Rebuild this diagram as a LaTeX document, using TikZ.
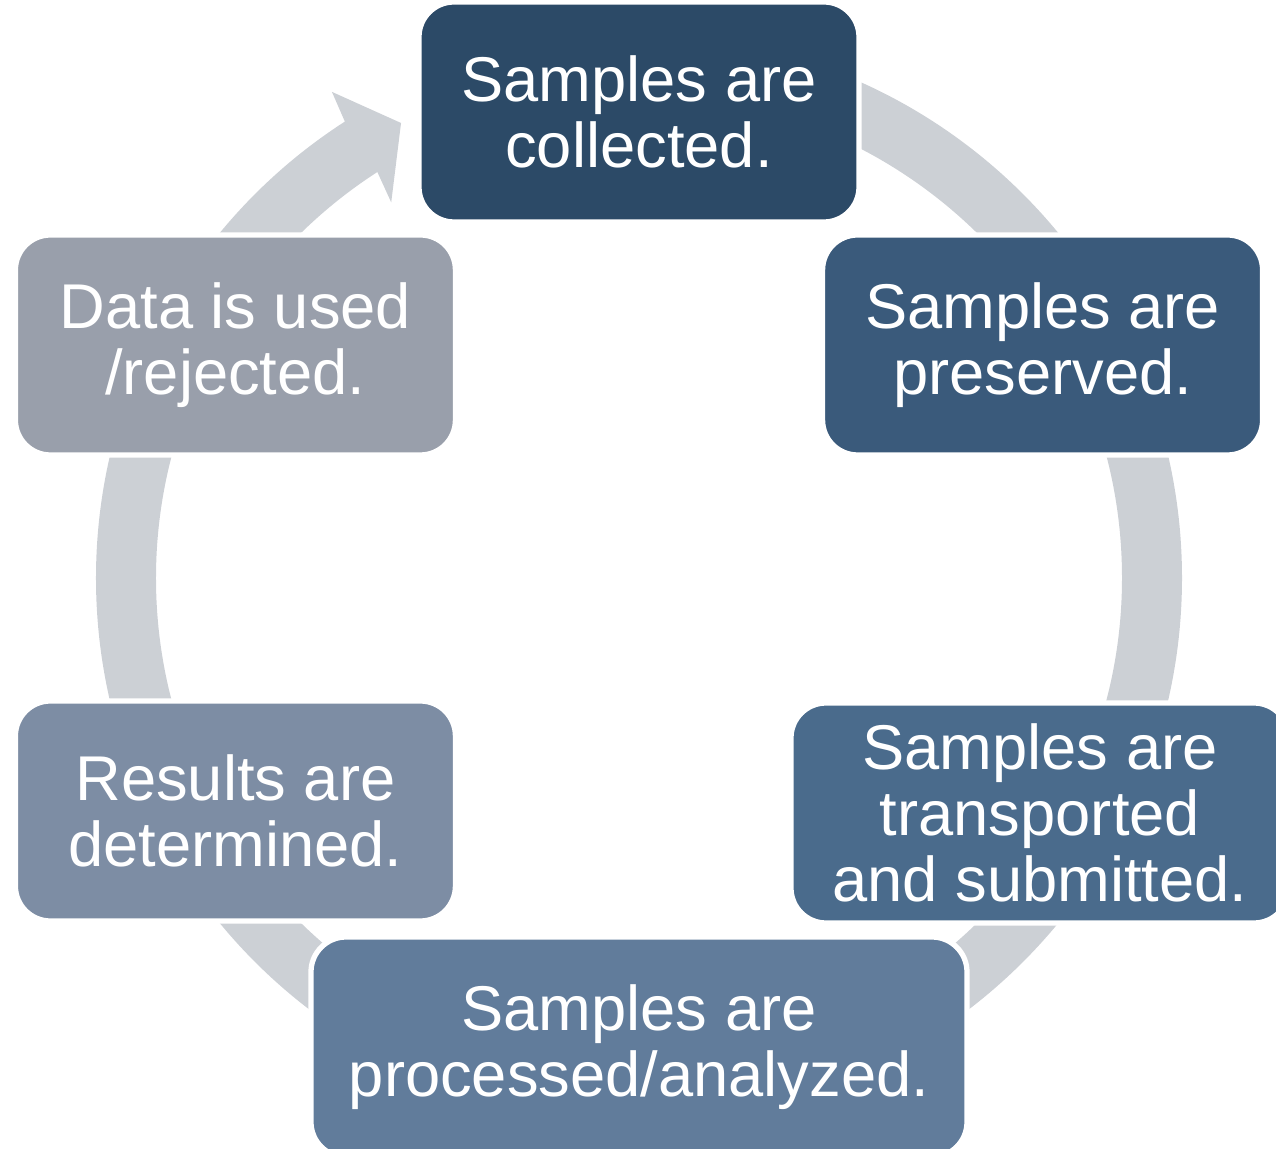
\documentclass[tikz,border=0pt]{standalone}
\usepackage{fontspec}
\setmainfont{Liberation Sans}
\usetikzlibrary{arrows.meta}

\definecolor{ringgray}{HTML}{CCD0D5}
\definecolor{collectc}{HTML}{2C4A67}
\definecolor{preservec}{HTML}{3A5A7B}
\definecolor{transportc}{HTML}{4A6B8C}
\definecolor{processc}{HTML}{617C9B}
\definecolor{resultc}{HTML}{7D8DA4}
\definecolor{usec}{HTML}{999FAB}

\begin{document}
\begin{tikzpicture}[
  stage/.style={rounded corners=0.35cm, draw=white, line width=1.5pt, text=white,
    font=\fontsize{18}{18.7}\selectfont, align=center, inner sep=0pt,
    minimum width=4.4cm, minimum height=2.2cm},
  band/.style={line width=0.6cm, ringgray}
]
  \useasboundingbox (-6.39,-5.71) rectangle (6.37,5.78);

  % the cycle band, clockwise, ending in a head left of the top box
  \coordinate (start) at (90:5.13);
  \coordinate (neck) at (122.5:5.13);
  \draw[band] (start) arc[start angle=90, end angle=-237.5, radius=5.13];
  \fill[ringgray] (122.8:5.43) -- (122.28:5.75) -- (117.61:5.135)
    -- (123.41:4.50) -- (122.8:4.83) -- cycle;

  \node[stage, fill=collectc] (collect) at (90:4.66) {Samples are\\collected.};
  \node[stage, fill=preservec] (preserve) at (30:4.66) {Samples are\\preserved.};
  \node[stage, fill=transportc, minimum width=4.98cm] (transport) at (4.01,-2.35)
    {Samples are\\transported\\and submitted.};
  \node[stage, fill=processc, minimum width=6.56cm] (process) at (0,-4.69)
    {Samples are\\processed/analyzed.};
  \node[stage, fill=resultc] (result) at (210:4.66) {Results are\\determined.};
  \node[stage, fill=usec] (use) at (150:4.66) {Data is used\\/rejected.};
\end{tikzpicture}
\end{document}
